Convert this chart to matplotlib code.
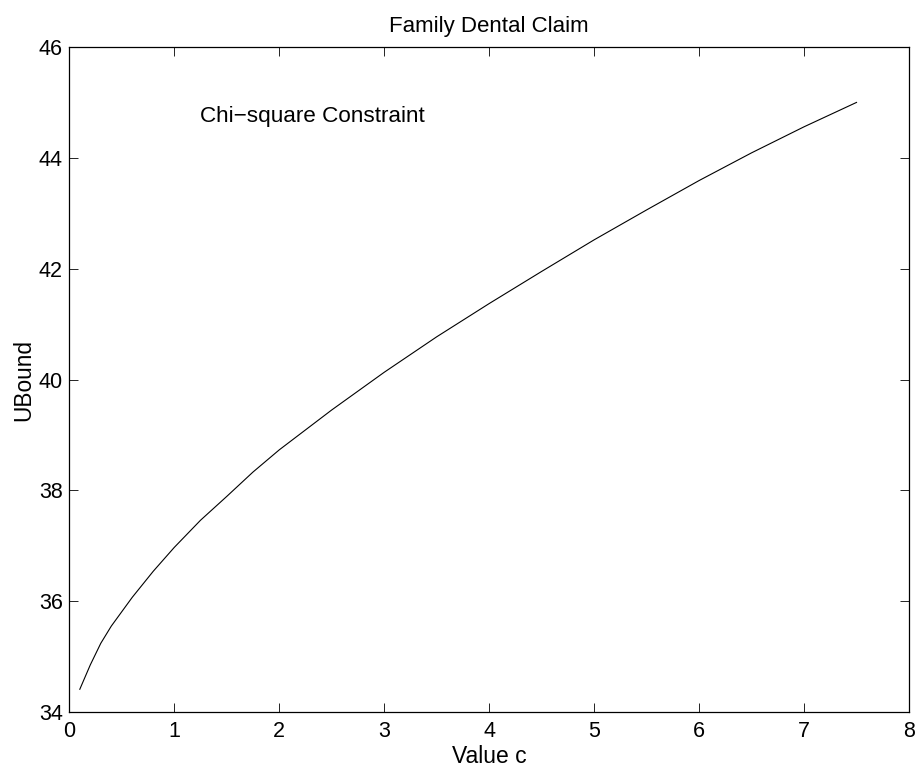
import numpy as np
import matplotlib
matplotlib.use("Agg")
import matplotlib.pyplot as plt

# valeurs
c_vals = [0.1, 0.2, 0.3, 0.4, 0.5, 0.6, 0.8, 1.0, 1.25, 1.5, 1.75, 2.0,
          2.5, 3.0, 3.5, 4.0, 4.5, 5.0, 5.5, 6.0, 6.5, 7.0, 7.5]
ubound = [34.41, 34.85, 35.24, 35.55, 35.81, 36.07, 36.54, 36.97, 37.46,
          37.89, 38.33, 38.73, 39.45, 40.13, 40.77, 41.37, 41.95, 42.52,
          43.06, 43.59, 44.09, 44.56, 45.0]

x_ticks = [0, 1, 2, 3, 4, 5, 6, 7, 8]
y_ticks = [34, 36, 38, 40, 42, 44, 46]

plt.rcParams['font.family'] = ['Liberation Sans', 'DejaVu Sans']

fig = plt.figure(figsize=(9.19, 7.71), dpi=100)
ax = fig.add_axes([69.3 / 919, 1 - 712 / 771, (909 - 69.3) / 919, (712 - 47) / 771])

ax.plot(c_vals, ubound, color='black', lw=0.8)
ax.set_xlim(0, 8)
ax.set_ylim(34, 46)
ax.set_xticks(x_ticks)
ax.set_yticks(y_ticks)
ax.tick_params(direction='in', top=True, right=True, length=6.5, width=0.6,
               labelsize=15.5)
ax.tick_params(axis='x', pad=6.5)
ax.tick_params(axis='y', pad=4.6)
for s in ax.spines.values():
    s.set_linewidth(0.9)

ax.set_xlabel("Value c", fontsize=16.5)
ax.set_ylabel("UBound", fontsize=16.3)
ax.xaxis.set_label_coords(0.5, -0.049)
ax.yaxis.set_label_coords(-0.041, 0.5)
ax.set_title("Family Dental Claim", fontsize=16, pad=11)
ax.text(1.245, 44.74, "Chi\u2212square Constraint", fontsize=16.2, va='center')

fig.savefig("out.png", dpi=100)
